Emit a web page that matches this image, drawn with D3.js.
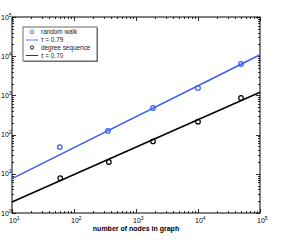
<!DOCTYPE html>
<html><head><meta charset="utf-8">
<script src="https://cdn.jsdelivr.net/npm/d3@7"></script>
<style>body{margin:0;background:#fff}svg{display:block}text{font-family:"Liberation Sans",Arial,sans-serif}</style>
</head><body><svg id="c" width="291" height="240"></svg>
<script>
const rwNodes = [59, 353, 1880, 10000, 49400];
const rwValues = [48, 124, 477, 1550, 6320];
const dsNodes = [60, 365, 1880, 10000, 49400];
const dsValues = [7.7, 20, 67, 214, 860];
const fitRW = {a: 1.22, tau: 0.79};
const fitDS = {a: 0.38, tau: 0.70};
const xTicks = [1e1, 1e2, 1e3, 1e4, 1e5];
const yTicks = [1e0, 1e1, 1e2, 1e3, 1e4, 1e5];
const legendLabels = ["random walk", "\u03c4 = 0.79", "degree sequence", "\u03c4 = 0.70"];
const xLabel = "number of nodes in graph";

const blue = "#3a5cf5";
const svg = d3.select("#c");
const L = 12, R = 260, T = 17, B = 213;
const x = d3.scaleLog().domain([10, 1e5]).range([L, R]);
const y = d3.scaleLog().domain([1, 1e5]).range([B, T]);

svg.append("rect").attr("x", L).attr("y", T).attr("width", R - L).attr("height", B - T)
  .attr("fill", "none").attr("stroke", "#000").attr("stroke-width", 1);

function allTicks(dom) {
  const out = [];
  for (let e = Math.log10(dom[0]); e < Math.log10(dom[1]); e++) {
    for (let k = 1; k < 10; k++) out.push({v: k * Math.pow(10, e), major: k === 1});
  }
  out.push({v: dom[1], major: true});
  return out;
}
const tg = svg.append("g").attr("stroke", "#000").attr("stroke-width", 0.8);
allTicks([10, 1e5]).forEach(t => {
  const px = Math.round(x(t.v)) + 0.5, len = t.major ? 4 : 2;
  tg.append("line").attr("x1", px).attr("x2", px).attr("y1", B).attr("y2", B - len);
  tg.append("line").attr("x1", px).attr("x2", px).attr("y1", T).attr("y2", T + len);
});
allTicks([1, 1e5]).forEach(t => {
  const py = Math.round(y(t.v)) + 0.5, len = t.major ? 4 : 2;
  tg.append("line").attr("y1", py).attr("y2", py).attr("x1", L).attr("x2", L + len);
  tg.append("line").attr("y1", py).attr("y2", py).attr("x1", R).attr("x2", R - len);
});

xTicks.forEach(v => {
  const t = svg.append("text").attr("x", x(v) - 3).attr("y", B + 10).attr("font-size", 7).attr("fill", "#000");
  t.append("tspan").text("10");
  t.append("tspan").attr("dy", -3).attr("font-size", 5).text(Math.round(Math.log10(v)));
});
yTicks.forEach(v => {
  const t = svg.append("text").attr("x", 1).attr("y", y(v) + 2.5).attr("font-size", 7).attr("fill", "#000");
  t.append("tspan").text("10");
  t.append("tspan").attr("dy", -3).attr("font-size", 5).text(Math.round(Math.log10(v)));
});

svg.append("text").attr("x", 136).attr("y", 231).attr("text-anchor", "middle")
  .attr("font-size", 7).attr("font-weight", "bold").text(xLabel);

const line = d3.line().x(d => x(d[0])).y(d => y(d[1]));
const xs = [10, 1e5];
svg.append("path").attr("d", line(xs.map(v => [v, fitRW.a * Math.pow(v, fitRW.tau)])))
  .attr("stroke", blue).attr("stroke-width", 1.5).attr("fill", "none");
svg.append("path").attr("d", line(xs.map(v => [v, fitDS.a * Math.pow(v, fitDS.tau)])))
  .attr("stroke", "#000").attr("stroke-width", 1.5).attr("fill", "none");

svg.append("g").selectAll("circle").data(rwNodes.map((n, i) => [n, rwValues[i]])).join("circle")
  .attr("cx", d => x(d[0])).attr("cy", d => y(d[1])).attr("r", 2.3)
  .attr("fill", "none").attr("stroke", blue).attr("stroke-width", 1.2);
svg.append("g").selectAll("circle").data(dsNodes.map((n, i) => [n, dsValues[i]])).join("circle")
  .attr("cx", d => x(d[0])).attr("cy", d => y(d[1])).attr("r", 2.3)
  .attr("fill", "none").attr("stroke", "#000").attr("stroke-width", 1.2);

const lg = svg.append("g");
lg.append("rect").attr("x", 24).attr("y", 28).attr("width", 74).attr("height", 34).attr("fill", "#888");
lg.append("rect").attr("x", 23).attr("y", 27).attr("width", 74).attr("height", 34)
  .attr("fill", "#fff").attr("stroke", "#444").attr("stroke-width", 0.8);
const rowY = [32, 40, 47.5, 55.5];
const styles = [
  {type: "m", c: blue}, {type: "l", c: blue}, {type: "m", c: "#000"}, {type: "l", c: "#000"}
];
styles.forEach((s, i) => {
  if (s.type === "m") {
    lg.append("circle").attr("cx", 32).attr("cy", rowY[i]).attr("r", 1.6)
      .attr("fill", "none").attr("stroke", s.c).attr("stroke-width", 0.9);
  } else {
    lg.append("line").attr("x1", 26).attr("x2", 38).attr("y1", rowY[i]).attr("y2", rowY[i])
      .attr("stroke", s.c).attr("stroke-width", 0.8);
  }
  lg.append("text").attr("x", 41).attr("y", rowY[i] + 2.3).attr("font-size", 6.4).attr("fill", "#222")
    .text(legendLabels[i]);
});
</script></body></html>
